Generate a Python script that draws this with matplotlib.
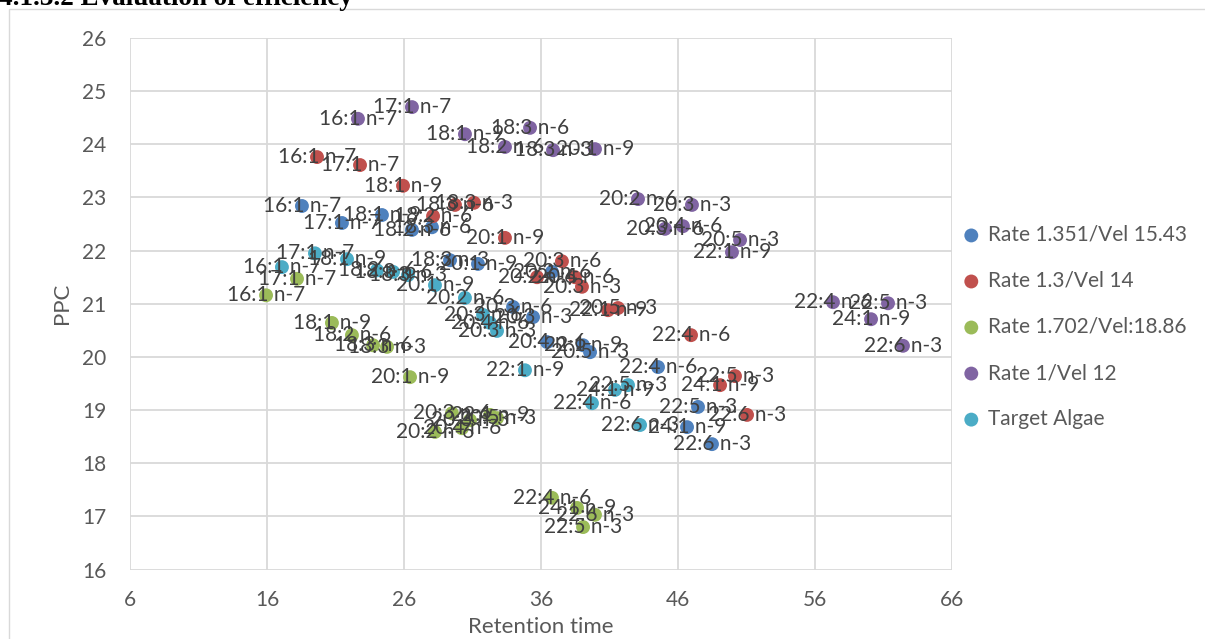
import matplotlib
matplotlib.use("Agg")
import matplotlib.pyplot as plt
from matplotlib.patches import Rectangle

plt.rcParams['font.family'] = ['Lato', 'DejaVu Sans']

# ---------------- data ----------------
blue_names = ["16:1 n-7", "17:1 n-7", "18:1 n-9", "18:2 n-6", "18:3 n-6", "18:3 n-3", "20:1 n-9",
              "20:2 n-6", "20:3 n-6", "20:3 n-3", "20:4 n-6", "22:1 n-9", "20:5 n-3", "22:4 n-6",
              "22:5 n-3", "24:1 n-9", "22:6 n-3"]
blue_x = [18.55, 21.47, 24.39, 26.58, 28.04, 29.36, 31.40, 36.80, 33.96, 35.42, 36.44, 39.07, 39.58,
          44.54, 47.46, 46.66, 48.48]
blue_y = [22.84, 22.52, 22.67, 22.39, 22.44, 21.82, 21.75, 21.60, 20.94, 20.75, 20.28, 20.22, 20.09,
          19.81, 19.06, 18.68, 18.36]

red_names = ["16:1 n-7", "17:1 n-7", "18:1 n-9", "18:2 n-6", "18:3 n-6", "18:3 n-3", "20:1 n-9",
             "20:2 n-6", "20:3 n-6", "20:3 n-3", "20:4 n-6", "22:1 n-9", "20:5 n-3", "22:4 n-6",
             "22:5 n-3", "24:1 n-9", "22:6 n-3"]
red_x = [19.65, 22.79, 25.93, 28.12, 29.72, 31.11, 33.37, 35.71, 37.53, 38.99, 38.48, 40.89, 41.62,
         46.95, 50.16, 49.07, 51.04]
red_y = [23.76, 23.61, 23.22, 22.65, 22.86, 22.90, 22.24, 21.50, 21.80, 21.32, 21.50, 20.88, 20.92,
         20.41, 19.64, 19.47, 18.91]

green_names = ["16:1 n-7", "17:1 n-7", "18:1 n-9", "18:2 n-6", "18:3 n-6", "18:3 n-3", "20:1 n-9",
               "20:2 n-6", "20:3 n-6", "20:4 n-6", "20:3 n-3", "22:1 n-9", "20:5 n-3", "22:4 n-6",
               "24:1 n-9", "22:6 n-3", "22:5 n-3"]
green_x = [15.93, 18.19, 20.74, 22.20, 23.74, 24.76, 26.44, 28.26, 29.50, 30.23, 30.82, 32.28, 32.79,
           36.80, 38.63, 39.94, 39.07]
green_y = [21.16, 21.47, 20.64, 20.41, 20.22, 20.19, 19.62, 18.59, 18.94, 18.66, 18.81, 18.91, 18.85,
           17.35, 17.16, 17.03, 16.80]

purple_names = ["16:1 n-7", "17:1 n-7", "18:1 n-9", "18:2 n-6", "18:3 n-6", "18:3 n-3", "20:1 n-9",
                "20:2 n-6", "20:3 n-6", "20:3 n-3", "20:4 n-6", "20:5 n-3", "22:1 n-9", "22:4 n-6",
                "22:5 n-3", "24:1 n-9", "22:6 n-3"]
purple_x = [22.64, 26.58, 30.45, 33.37, 35.20, 36.88, 39.94, 43.08, 45.05, 47.02, 46.36, 50.53, 49.94,
            57.31, 61.33, 60.09, 62.42]
purple_y = [24.48, 24.70, 24.19, 23.95, 24.31, 23.89, 23.91, 22.97, 22.41, 22.86, 22.46, 22.20, 21.97,
            21.03, 21.01, 20.71, 20.21]

cyan_names = ["16:1 n-7", "17:1 n-7", "18:1 n-9", "18:2 n-6", "18:3 n-6", "18:3 n-3", "20:1 n-9",
              "20:2 n-6", "20:3 n-6", "20:4 n-6", "20:3 n-3", "22:1 n-9", "22:4 n-6", "24:1 n-9",
              "22:5 n-3", "22:6 n-3"]
cyan_x = [17.09, 19.50, 21.84, 24.03, 25.20, 26.29, 28.26, 30.45, 31.77, 32.28, 32.79, 34.83, 39.72,
          41.40, 42.35, 43.23]
cyan_y = [21.69, 21.95, 21.84, 21.63, 21.60, 21.54, 21.35, 21.11, 20.79, 20.64, 20.49, 19.75, 19.13,
          19.38, 19.47, 18.72]

series_labels = ["Rate 1.351/Vel 15.43", "Rate 1.3/Vel 14", "Rate 1.702/Vel:18.86",
                 "Rate 1/Vel 12", "Target Algae"]
series_colors = ["#4F81BD", "#C0504D", "#9BBB59", "#8064A2", "#4BACC6"]

x_ticks = [6, 16, 26, 36, 46, 56, 66]
y_ticks = [16, 17, 18, 19, 20, 21, 22, 23, 24, 25, 26]

# ---------------- figure ----------------
W, H = 1205, 639
fig = plt.figure(figsize=(W / 100, H / 100), dpi=100)
fig.patch.set_facecolor("white")

# chart border (partially cropped at right/bottom)
fig.add_artist(Rectangle((9 / W, -0.2), 1.3, (1 - 9 / H) + 0.2, transform=fig.transFigure,
                         fill=False, edgecolor="#D9D9D9", linewidth=1.0))

# document heading cut off at top
fig.text(-0.001, 1 - 5 / H, "4.1.3.2 Evaluation of efficiency", fontsize=19.5, fontweight="bold",
         family=["Liberation Serif", "DejaVu Serif"], color="black", va="baseline", ha="left")

left, right = 130 / W, 952 / W
bottom, top = 1 - 569.6 / H, 1 - 38 / H
ax = fig.add_axes([left, bottom, right - left, top - bottom])

grid_c = "#D9D9D9"
for s in ax.spines.values():
    s.set_visible(False)
ax.set_xlim(6, 66)
ax.set_ylim(16, 26)
ax.set_xticks(x_ticks)
ax.set_yticks(y_ticks)
ax.grid(True, color=grid_c, linewidth=1.3, zorder=0)
ax.set_axisbelow(True)
ax.tick_params(length=0, labelsize=15, colors="#595959")
ax.tick_params(axis="y", pad=17)
ax.tick_params(axis="x", pad=15)

all_x = [blue_x, red_x, green_x, purple_x, cyan_x]
all_y = [blue_y, red_y, green_y, purple_y, cyan_y]
all_n = [blue_names, red_names, green_names, purple_names, cyan_names]

handles = []
for i, (xs, ys) in enumerate(zip(all_x, all_y)):
    h = ax.scatter(xs, ys, s=100, color=series_colors[i], edgecolors="none", zorder=3 + i * 0.1,
                   label=series_labels[i])
    handles.append(h)

for xs, ys, ns in zip(all_x, all_y, all_n):
    for x, y, n in zip(xs, ys, ns):
        ax.text(x, y, n, ha="center", va="center", fontsize=15, color="#404040", zorder=10)

ax.set_xlabel("Retention time", fontsize=16, color="#595959")
ax.set_ylabel("PPC", fontsize=16, color="#595959")
ax.xaxis.set_label_coords(0.5, (569.6 - 627) / (569.6 - 38))
ax.xaxis.label.set_va("center")
ax.yaxis.set_label_coords((62 - 130) / (952 - 130), 0.5)
ax.yaxis.label.set_va("center")

leg = fig.legend(handles=handles, labels=series_labels, loc="center left",
                 bbox_to_anchor=(964 / W, 1 - 327 / H), frameon=False, fontsize=15,
                 handlelength=0.7, handletextpad=0.45, labelspacing=1.25, borderpad=0,
                 borderaxespad=0, scatterpoints=1)
for t in leg.get_texts():
    t.set_color("#595959")

fig.savefig("out.png", dpi=100, facecolor="white")
